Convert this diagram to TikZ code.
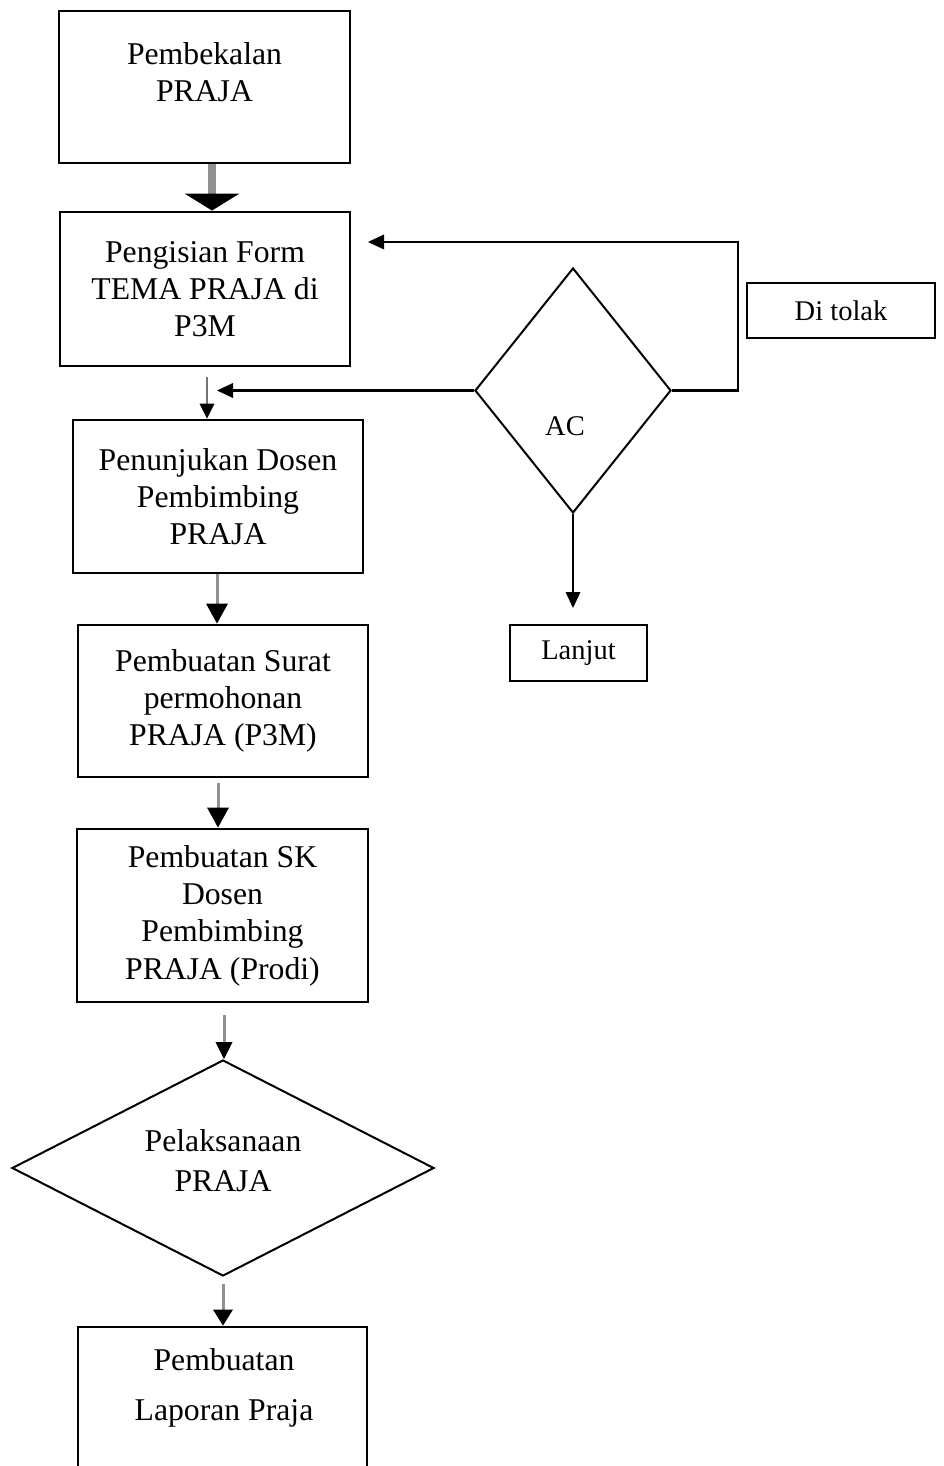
\documentclass[tikz,border=0pt]{standalone}
\usepackage{fontspec}
\setmainfont{Liberation Serif}
\usetikzlibrary{arrows.meta,shapes.geometric}
\definecolor{shaft}{RGB}{145,145,145}
\tikzset{
  mainfont/.style={font=\fontsize{31.7}{37.3}\selectfont},
  smallfont/.style={font=\fontsize{28.5}{33}\selectfont},
  box/.style={draw=black, line width=2.9pt, rectangle, mainfont, align=center, inner sep=0pt},
  smallbox/.style={draw=black, line width=2pt, rectangle, smallfont, inner sep=0pt},
  dec/.style={draw=black, shape=diamond, line width=2pt, inner sep=0pt},
  label/.style={mainfont, align=center, inner sep=0pt},
  flow/.style 2 args={draw=shaft, line width=3pt, -{Triangle[length=#1, width=#2, line width=0pt, color=black]}},
  link/.style={draw=black, line width=2.2pt, -{Triangle[length=16pt, width=15pt, line width=0pt]}},
}
\begin{document}
\begin{tikzpicture}[x=1pt,y=-1pt]
\useasboundingbox (0,0) rectangle (944,1466);
\clip (0,0) rectangle (944,1466);

% boxes
\node[box, minimum width=291pt, minimum height=152pt] (b1) at (204.5,87) {};
\node[label] (t1) at (204.5,72) {Pembekalan\\PRAJA};
\node[box, minimum width=290pt, minimum height=154pt] (b2) at (205,289) {Pengisian Form\\TEMA PRAJA di\\P3M};
\node[box, minimum width=290pt, minimum height=153pt] (b3) at (218,496.5) {Penunjukan Dosen\\Pembimbing\\PRAJA};
\node[box, minimum width=290pt, minimum height=152pt] (b4) at (223,701) {Pembuatan Surat\\permohonan\\PRAJA (P3M)};
\node[box, minimum width=291pt, minimum height=173pt] (b5) at (222.5,915.5) {Pembuatan SK\\Dosen\\Pembimbing\\PRAJA (Prodi)};
\node[box, minimum width=289pt, minimum height=180pt] (b6) at (222.5,1417) {};
\node[label] (t6) at (224,1388) {Pembuatan\\[12.7pt]Laporan Praja};

% decision AC
\node[dec, minimum width=196pt, minimum height=245pt] (ac) at (573,390.5) {};
\node[smallfont, inner sep=0pt] (tac) at (565,426) {AC};
\node[smallbox, minimum width=188pt, minimum height=55pt] (tolak) at (841,310.5) {Di tolak};
\node[smallbox, minimum width=137pt, minimum height=56pt] (lanjut) at (578.5,653) {Lanjut};

% decision Pelaksanaan
\node[dec, minimum width=422pt, minimum height=216pt] (pel) at (223,1168) {};
\node[label] (tpel) at (223,1161) {Pelaksanaan\\[2.7pt]PRAJA};

% free ends
\coordinate (e1) at (217,0);
\coordinate (rt) at (738,242);
\coordinate (e2) at (368,242);
\coordinate (e3) at (0,608);

% main flow arrows
\draw[draw=shaft, line width=8pt, -{Triangle[length=17pt, width=55pt, line width=0pt, color=black]}] ([xshift=7.5pt]b1.south) -- ([xshift=7pt]b2.north);
\draw[draw=shaft!80!black, line width=2pt, shorten <=10pt, -{Triangle[length=15pt, width=15pt, line width=0pt, color=black]}] ([xshift=2pt]b2.south) -- ([xshift=-11pt]b3.north);
\draw[flow={20pt}{22pt}] ([xshift=-1pt]b3.south) -- ([xshift=-6pt]b4.north);
\draw[flow={20pt}{22pt}, shorten <=5pt] ([xshift=-5pt]b4.south) -- ([xshift=-4.5pt]b5.north);
\draw[flow={17pt}{17pt}, shorten <=12pt] ([xshift=1.5pt]b5.south) -- ([xshift=1pt]pel.north);
\draw[flow={16pt}{20pt}, shorten <=7pt] (pel.south) -- ([xshift=0.5pt]b6.north);

% AC connectors
\draw[link] (ac.west) -- (ac.west -| e1);
\draw[link] (ac.east) -| (rt) -- (e2);
\draw[link] (ac.south) -- (ac.south |- e3);
\end{tikzpicture}
\end{document}
